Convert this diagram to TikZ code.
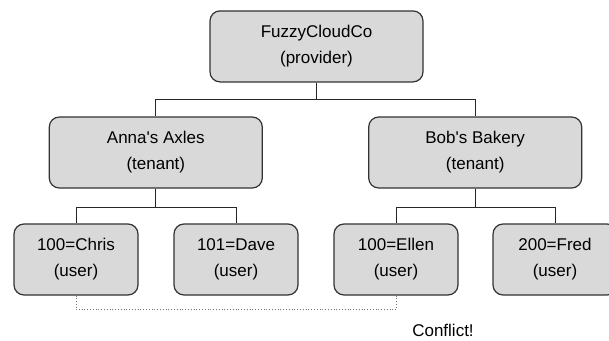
\documentclass[tikz,border=0pt]{standalone}
\usepackage{fontspec}
\setmainfont{Liberation Sans}[Ligatures=TeXOff]
\usetikzlibrary{positioning}
\definecolor{boxfill}{HTML}{D9D9D9}
\definecolor{boxline}{HTML}{333333}
\tikzset{
  every picture/.style={line width=1pt},
  orgbox/.style={draw=boxline, fill=boxfill, line width=1.2pt, rounded corners=10pt, align=center, minimum width=#1, minimum height=71pt, inner sep=0pt, font=\fontsize{17}{26}\selectfont},
  orgbox/.default=124pt,
  link/.style={draw=black!85, line width=1pt},
  clash/.style={draw=black!55, dotted, line width=0.8pt},
  note/.style={font=\fontsize{17}{26}\selectfont, inner sep=0pt},
}

\begin{document}
\begin{tikzpicture}[x=1pt, y=-1pt]
  \useasboundingbox (0,0) rectangle (609,340);
  % provider and its two tenants
  \node[orgbox=213pt] (prov) at (316.5,46.4) {FuzzyCloudCo\\(provider)};
  \node[orgbox=213pt] (anna) at (155.8,152.5) {Anna's Axles\\(tenant)};
  \node[orgbox=213pt] (bob) at (475.2,152.5) {Bob's Bakery\\(tenant)};
  \draw[link] (prov.south) -- ++(0,17) -| (anna.north);
  \draw[link] (prov.south) -- ++(0,17) -| (bob.north);
  % users under each tenant
  \foreach \x/\n/\t/\p in {76/chris/100=Chris/anna, 236/dave/101=Dave/anna, 396/ellen/100=Ellen/bob, 555/fred/200=Fred/bob} {
    \node[orgbox] (\n) at (\x,259.5) {\t\\(user)};
    \draw[link] (\p.south) -- ++(0,19) -| (\n.north);
  }
  % same id in two tenants
  \draw[clash] (chris.south) -- ++(0,14) -| (ellen.south);
  \node[note] (conflict) at (443,330.5) {Conflict!};
\end{tikzpicture}
\end{document}
